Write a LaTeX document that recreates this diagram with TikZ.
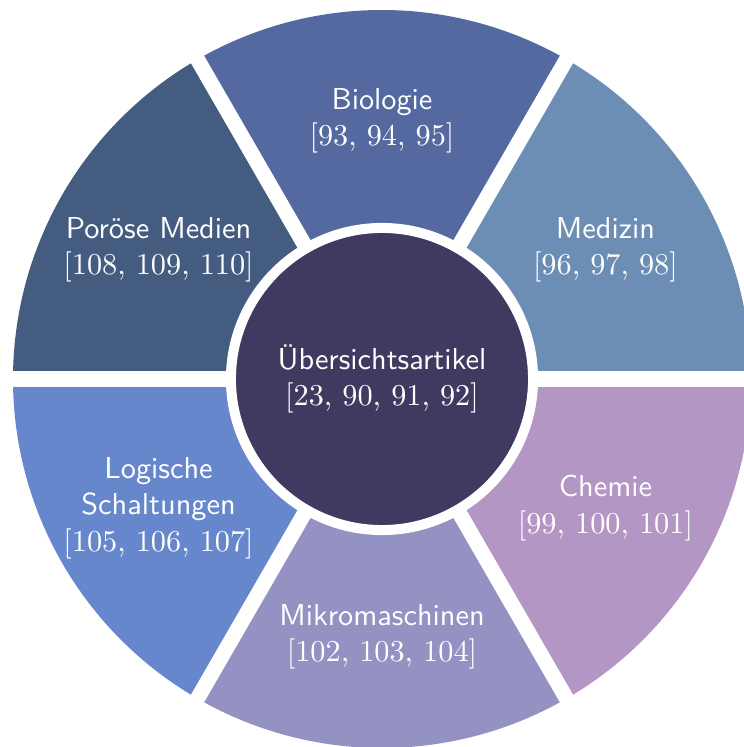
\documentclass[tikz,border=0pt]{standalone}

\definecolor{medcol}{HTML}{6D8EB4}
\definecolor{biocol}{HTML}{53699F}
\definecolor{porcol}{HTML}{445C80}
\definecolor{logcol}{HTML}{6787CD}
\definecolor{mikcol}{HTML}{9491C3}
\definecolor{checol}{HTML}{B496C4}
\definecolor{hubcol}{HTML}{413A60}

\begin{document}
\begin{tikzpicture}[x=0.33pt, y=0.33pt,
    gap/.style = {draw=white, line width=5pt},
    field/.style = {align=center, text=white, font=\sffamily},
    hub/.style = {circle, fill=hubcol, draw=white, line width=3.3pt, minimum size=99.7pt, align=center, text=white, font=\sffamily}]
  \useasboundingbox (-382,-368) rectangle (362,379);
  \clip (-382,-368) rectangle (362,379);
  % sectors
  \fill[medcol] (0,0) -- (0:369) arc[start angle=0, end angle=60, radius=369] -- cycle;
  \fill[biocol] (0,0) -- (60:369) arc[start angle=60, end angle=120, radius=369] -- cycle;
  \fill[porcol] (0,0) -- (120:369) arc[start angle=120, end angle=180, radius=369] -- cycle;
  \fill[logcol] (0,0) -- (180:369) arc[start angle=180, end angle=240, radius=369] -- cycle;
  \fill[mikcol] (0,0) -- (240:369) arc[start angle=240, end angle=300, radius=369] -- cycle;
  \fill[checol] (0,0) -- (300:369) arc[start angle=300, end angle=360, radius=369] -- cycle;
  % white gaps
  \draw[gap] (180:380) -- (0:380);
  \draw[gap] (240:380) -- (60:380);
  \draw[gap] (300:380) -- (120:380);
  \node[hub] (hub) at (0,0) {Übersichtsartikel\\{\rmfamily [23, 90, 91, 92]}};
  \node[field] (bio) at (90:258) {Biologie\\{\rmfamily [93, 94, 95]}};
  \node[field] (med) at (30:258) {Medizin\\{\rmfamily [96, 97, 98]}};
  \node[field] (che) at (-30:258) {Chemie\\{\rmfamily [99, 100, 101]}};
  \node[field] (mik) at (-90:258) {Mikromaschinen\\{\rmfamily [102, 103, 104]}};
  \node[field] (log) at (210:258) {Logische\\Schaltungen\\{\rmfamily [105, 106, 107]}};
  \node[field] (por) at (150:258) {Poröse Medien\\{\rmfamily [108, 109, 110]}};
\end{tikzpicture}
\end{document}
